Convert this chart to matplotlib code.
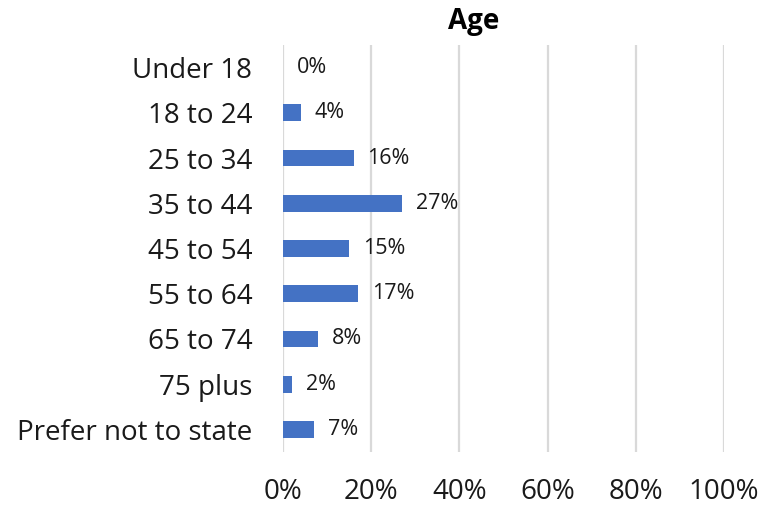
import matplotlib.pyplot as plt
from matplotlib.ticker import FuncFormatter

categories = ['Under 18', '18 to 24', '25 to 34', '35 to 44', '45 to 54',
              '55 to 64', '65 to 74', '75 plus', 'Prefer not to state']
values = [0, 4, 16, 27, 15, 17, 8, 2, 7]

plt.rcParams['font.family'] = ['Open Sans', 'DejaVu Sans']

W, H = 763, 508
fig = plt.figure(figsize=(W / 100, H / 100), dpi=100)
ax = fig.add_axes([283 / W, 1 - 452 / H, (724 - 283) / W, (452 - 45) / H])

ypos = range(len(categories))
ax.barh(ypos, values, height=0.37, color='#4472C4', zorder=3)

# data labels
for y, v in zip(ypos, values):
    ax.annotate(f'{v}%', (v, y), xytext=(10, 0), textcoords='offset points',
                va='center', ha='left', fontsize=15.5, color='#1a1a1a')

ax.set_xlim(0, 100)
ax.set_ylim(len(categories) - 0.5, -0.5)
ax.set_xticks([0, 20, 40, 60, 80, 100])
ax.xaxis.set_major_formatter(FuncFormatter(lambda x, p: f'{x:.0f}%'))
ax.set_yticks(list(ypos))
ax.set_yticklabels(categories)
ax.tick_params(axis='both', length=0, labelsize=20, colors='#1a1a1a')
ax.tick_params(axis='x', pad=19)
ax.tick_params(axis='y', pad=22)

ax.grid(axis='x', color='#d9d9d9', linewidth=1.6, zorder=0)
for s in ax.spines.values():
    s.set_visible(False)

fig.text(474 / W, 1 - 22 / H, 'Age', ha='center', va='center',
         fontsize=20, fontweight='bold', color='black')

fig.savefig('out.png', dpi=100)
